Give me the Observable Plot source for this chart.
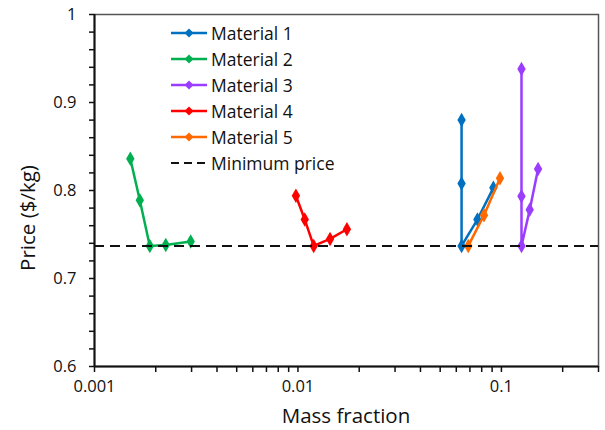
<!DOCTYPE html>
<html>
<head>
<meta charset="utf-8">
<script src="https://cdn.jsdelivr.net/npm/d3@7"></script>
<script src="https://cdn.jsdelivr.net/npm/@observablehq/plot@0.6"></script>
<style>
  body { margin: 0; background: #fff; }
  #wrap { position: relative; width: 605px; height: 430px; font-family: "Open Sans", sans-serif; color: #111; }
  #legend { position: absolute; left: 171px; top: 20px; font-size: 17.5px; line-height: 26px; }
  #legend .row { display: flex; align-items: center; height: 26px; white-space: nowrap; }
  #legend svg { margin-right: 4px; }
  .title { position: absolute; font-size: 20.5px; white-space: nowrap; line-height: 1; }
  #ytitle { left: 27px; top: 218px; transform: translate(-50%, -50%) rotate(-90deg); }
  #xtitle { left: 346px; top: 415px; transform: translate(-50%, -50%); }
</style>
</head>
<body>
<div id="wrap"></div>
<script>
// ---- data ----
const seriesNames = ["Material 1", "Material 2", "Material 3", "Material 4", "Material 5"];
const seriesColors = ["#0070C0", "#00B050", "#9B3DFF", "#FF0000", "#FF6A00"];

const m1x = [0.0637, 0.0637, 0.0637, 0.0762, 0.0913];
const m1y = [0.880, 0.808, 0.737, 0.767, 0.803];
const m2x = [0.00150, 0.00167, 0.00187, 0.00224, 0.00297];
const m2y = [0.836, 0.789, 0.737, 0.738, 0.742];
const m3x = [0.1255, 0.1255, 0.1255, 0.1377, 0.1514];
const m3y = [0.938, 0.7935, 0.737, 0.778, 0.8245];
const m4x = [0.00977, 0.0108, 0.01195, 0.01438, 0.0174];
const m4y = [0.794, 0.767, 0.737, 0.745, 0.756];
const m5x = [0.0687, 0.0821, 0.0984];
const m5y = [0.737, 0.772, 0.814];

const minPrice = 0.737;
const minLabel = "Minimum price";

const xMajorTicks = [0.001, 0.01, 0.1];
const xAllTicks = [0.001, 0.002, 0.003, 0.004, 0.005, 0.006, 0.007, 0.008, 0.009,
                   0.01, 0.02, 0.03, 0.04, 0.05, 0.06, 0.07, 0.08, 0.09,
                   0.1, 0.2, 0.3];
const yMajorTicks = [0.6, 0.7, 0.8, 0.9, 1];
const yAllTicks = [0.6, 0.62, 0.64, 0.66, 0.68, 0.7, 0.72, 0.74, 0.76, 0.78,
                   0.8, 0.82, 0.84, 0.86, 0.88, 0.9, 0.92, 0.94, 0.96, 0.98, 1];
const xTitle = "Mass fraction";
const yTitle = "Price ($/kg)";

// ---- build tables ----
const xs = [m1x, m2x, m3x, m4x, m5x];
const ys = [m1y, m2y, m3y, m4y, m5y];
const tables = xs.map((xa, s) => xa.map((x, i) => ({x, y: ys[s][i], series: seriesNames[s]})));

const seriesMarks = [];
tables.forEach((t, s) => {
  seriesMarks.push(Plot.line(t, {x: "x", y: "y", stroke: seriesColors[s], strokeWidth: 2.5}));
  seriesMarks.push(Plot.dot(t, {x: "x", y: "y", symbol: "diamond", r: 4.4, fill: seriesColors[s], stroke: "none"}));
});

const chart = Plot.plot({
  width: 605,
  height: 430,
  marginLeft: 94,
  marginRight: 7,
  marginTop: 14,
  marginBottom: 64,
  style: {fontFamily: "Open Sans, sans-serif", fontSize: "16.5px", color: "#111", background: "white", overflow: "visible"},
  x: {type: "log", domain: [0.001, 0.3]},
  y: {domain: [0.6, 1]},
  marks: [
    Plot.frame({stroke: "#555", strokeWidth: 1.5}),
    Plot.axisX({ticks: xAllTicks, tickFormat: d => xMajorTicks.includes(d) ? String(d) : "", tickSize: 6, tickPadding: 8, label: null, strokeWidth: 1.5, fontSize: 16.5}),
    Plot.axisY({ticks: yAllTicks, tickFormat: d => yMajorTicks.includes(d) ? String(d) : "", tickSize: 5, tickPadding: 13, label: null, strokeWidth: 1.5, fontSize: 16.5}),
    Plot.ruleX([0.001], {stroke: "#111", strokeWidth: 2}),
    Plot.ruleY([0.6], {stroke: "#111", strokeWidth: 2}),
    ...seriesMarks,
    Plot.ruleY([minPrice], {stroke: "#111", strokeWidth: 2, strokeDasharray: "10,6"})
  ]
});

const wrap = document.getElementById("wrap");
wrap.appendChild(chart);

// axis titles
const yt = document.createElement("div");
yt.className = "title"; yt.id = "ytitle"; yt.textContent = yTitle;
const xt = document.createElement("div");
xt.className = "title"; xt.id = "xtitle"; xt.textContent = xTitle;
wrap.appendChild(yt);
wrap.appendChild(xt);

// legend overlay
const legend = document.createElement("div");
legend.id = "legend";
const entries = seriesNames.map((n, i) => ({name: n, color: seriesColors[i], dash: false}))
  .concat([{name: minLabel, color: "#111", dash: true}]);
entries.forEach(e => {
  const row = document.createElement("div");
  row.className = "row";
  const sw = e.dash
    ? `<svg width="36" height="12"><line x1="0" y1="6" x2="36" y2="6" stroke="${e.color}" stroke-width="2" stroke-dasharray="8,5"/></svg>`
    : `<svg width="36" height="12"><line x1="0" y1="6" x2="36" y2="6" stroke="${e.color}" stroke-width="2.5"/><path d="M18,1.5L22.5,6L18,10.5L13.5,6Z" fill="${e.color}"/></svg>`;
  row.innerHTML = sw + `<span>${e.name}</span>`;
  legend.appendChild(row);
});
wrap.appendChild(legend);
</script>
</body>
</html>
